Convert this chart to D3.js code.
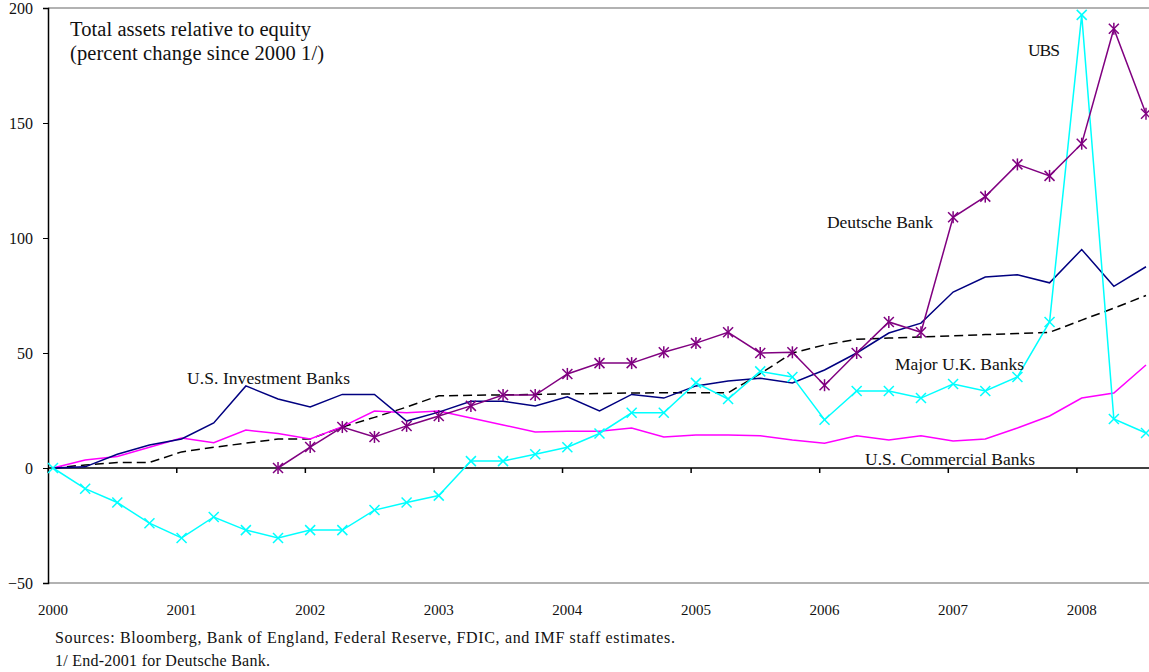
<!DOCTYPE html>
<html>
<head>
<meta charset="utf-8">
<script src="https://cdn.jsdelivr.net/npm/d3@7"></script>
<style>
  body { margin: 0; background: #fff; }
  text { font-family: "Liberation Serif", "Times New Roman", serif; fill: #111; }
</style>
</head>
<body>
<script>
// quarterly points, 2000 through 2008 Q3
var years = ["2000","2001","2002","2003","2004","2005","2006","2007","2008"];
var yTicks = [-50, 0, 50, 100, 150, 200];

var usInvest = [0,0.5,6,10,12.6,19.6,35.7,30,26.5,32,32,20.4,24.3,29,29,27,31,24.8,32,30.4,35.7,37.8,39,37,42.6,50,58.7,63,76.5,83,84,80.5,95,79,87.5];
var usComm   = [0,3.5,5,9,13,11,16.5,15,12.6,18,24.8,24,24.8,21.7,18.7,15.7,16,16,17.4,13.5,14.4,14.4,14,12.2,10.8,14,12.2,14,11.7,12.6,17.4,22.6,30.4,32.6,44.8];
var ukBanks  = [0,1.3,2.4,2.4,7,9,10.8,12.6,12.6,17.8,22,26.5,31.4,31.6,31.8,32,32.2,32.4,32.6,32.7,32.7,32.7,41,50,53.5,56,56.5,57,57.5,58,58.5,59,64.3,69.5,75];
var ubs      = [0,-9,-15,-24,-30.4,-21.3,-27,-30.4,-27,-27,-18.3,-15,-12,3,3,6,9,15,24,24,37,30,42,39.6,21,33.5,33.5,30.4,36.5,33.5,39.6,63.5,197,21.3,15.2];
// Deutsche Bank starts end-2001 (index 7)
var deutsche = [null,null,null,null,null,null,null,0,9.1,17.8,13.5,18.3,22.6,27,31.7,31.7,40.9,45.6,45.6,50.3,54.3,59,50,50.3,36,50,63.5,59,109,118,132,127,141,191,154];

var width = 1149, height = 672;
var svg = d3.select("body").append("svg").attr("width", width).attr("height", height);

var x = d3.scaleLinear().domain([0, 34]).range([53, 1146]);
var y = d3.scaleLinear().domain([-50, 200]).range([583, 8]);

// frame lines
svg.append("line").attr("x1", 48).attr("x2", width).attr("y1", y(200)).attr("y2", y(200))
  .attr("stroke", "#999").attr("stroke-width", 1.5);
svg.append("line").attr("x1", 48).attr("x2", width).attr("y1", y(-50)).attr("y2", y(-50))
  .attr("stroke", "#999").attr("stroke-width", 1.5);

// y axis
var yAxis = d3.axisLeft(y).tickValues(yTicks).tickSize(5).tickPadding(10);
var ya = svg.append("g").attr("transform", "translate(48,0)").call(yAxis);
ya.select(".domain").attr("stroke", "#000").attr("stroke-width", 1.5);
ya.selectAll("text").style("font-family", "Liberation Serif").style("font-size", "16px").attr("fill", "#111");

// zero line with year ticks
svg.append("line").attr("x1", 48).attr("x2", width).attr("y1", y(0)).attr("y2", y(0))
  .attr("stroke", "#000").attr("stroke-width", 1.5);
var xTickPos = years.map(function(d, i) { return i * 4 - 0.15; });
svg.selectAll("line.xtick").data(xTickPos).enter().append("line").attr("class", "xtick")
  .attr("x1", function(d) { return x(d); }).attr("x2", function(d) { return x(d); })
  .attr("y1", y(0)).attr("y2", y(0) + 5).attr("stroke", "#000").attr("stroke-width", 1.5);

svg.selectAll("text.year").data(years).enter().append("text").attr("class", "year")
  .attr("x", function(d, i) { return x(i * 4); }).attr("y", 615)
  .attr("text-anchor", "middle").style("font-size", "15px").text(function(d) { return d; });

var line = d3.line().defined(function(d) { return d != null; })
  .x(function(d, i) { return x(i); }).y(function(d) { return y(d); });

function drawLine(data, color, dash, w) {
  svg.append("path").datum(data).attr("d", line).attr("fill", "none")
    .attr("stroke", color).attr("stroke-width", w || 1.5)
    .attr("stroke-dasharray", dash || null);
}

drawLine(ukBanks, "#000", "9,5", 1.5);
drawLine(usComm, "#ff00ff");
drawLine(usInvest, "#000080");
drawLine(ubs, "#00ffff");
drawLine(deutsche, "#800080");

// markers
function xMark(data, color, r, star) {
  var pts = data.map(function(d, i) { return {i: i, v: d}; }).filter(function(d) { return d.v != null; });
  var g = svg.append("g").attr("stroke", color).attr("stroke-width", 1.5);
  pts.forEach(function(p) {
    var cx = x(p.i), cy = y(p.v);
    g.append("line").attr("x1", cx - r).attr("x2", cx + r).attr("y1", cy - r).attr("y2", cy + r);
    g.append("line").attr("x1", cx - r).attr("x2", cx + r).attr("y1", cy + r).attr("y2", cy - r);
    if (star) g.append("line").attr("x1", cx).attr("x2", cx).attr("y1", cy - r - 1).attr("y2", cy + r + 1);
  });
}
xMark(ubs, "#00ffff", 5, false);
xMark(deutsche, "#800080", 5, true);

// labels (widths stretched to match the original's loose spacing)
function label(txt, lx, ly, size, len) {
  var t = svg.append("text").attr("x", lx).attr("y", ly).style("font-size", size + "px").text(txt);
  if (len) t.attr("textLength", len).attr("lengthAdjust", "spacing");
}
label("Total assets relative to equity", 70, 36, 20.5, 241);
label("(percent change since 2000 1/)", 70, 60, 20.5, 254);
label("UBS", 1028, 56, 17.5, 32);
label("Deutsche Bank", 827, 228, 17.5, 106);
label("U.S. Investment Banks", 187, 384, 17.5, 163);
label("Major U.K. Banks", 895, 370, 17.5, 129);
label("U.S. Commercial Banks", 865, 465, 17.5, 170);

label("Sources: Bloomberg, Bank of England, Federal Reserve, FDIC, and IMF staff estimates.", 55, 643, 16, 620);
label("1/ End-2001 for Deutsche Bank.", 55, 666, 16, 215);
</script>
</body>
</html>
